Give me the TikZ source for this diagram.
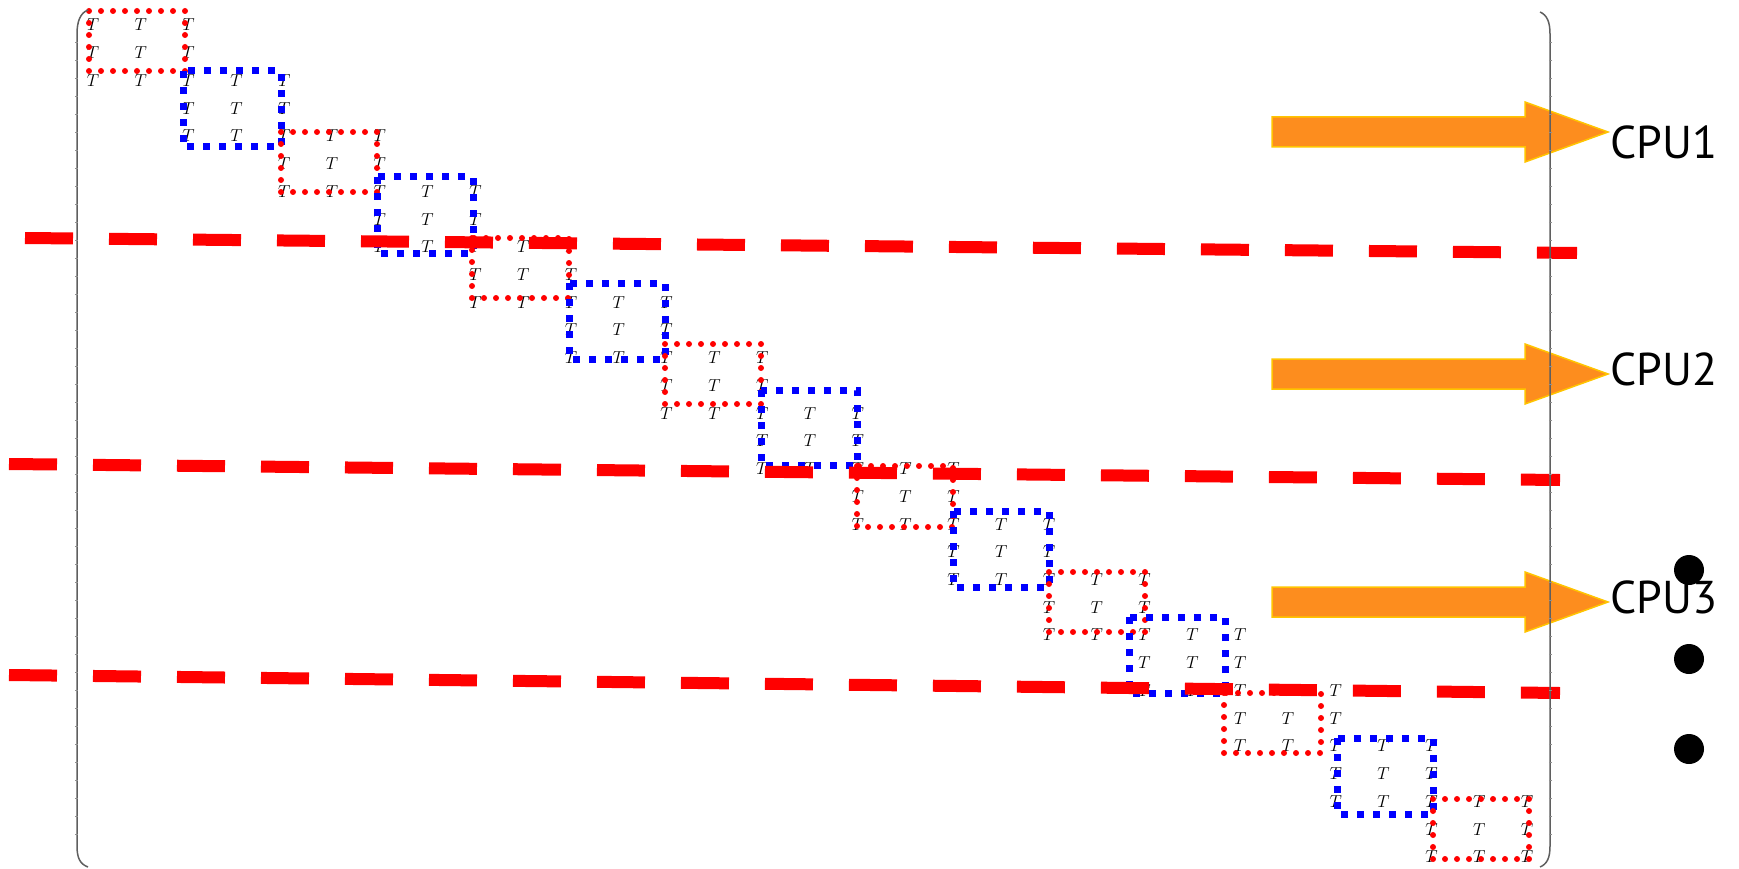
\documentclass[tikz,border=0pt]{standalone}
\usepackage{fontspec}
\newfontfamily\cpufont{PT Sans}
\definecolor{arrowfill}{RGB}{253,141,30}
\definecolor{arrowedge}{RGB}{255,196,0}
\definecolor{bracketgray}{RGB}{95,95,95}
\begin{document}
\begin{tikzpicture}[x=1pt,y=-1pt,
 tlabel/.style={inner sep=0pt, font=\fontsize{17}{20}\selectfont},
 redbox/.style={draw=red, line width=6pt, dash pattern=on 0pt off 12pt, line cap=round},
 bluebox/.style={draw=blue, line width=7pt, dash pattern=on 7pt off 9pt},
 cutline/.style={draw=red, line width=12pt, dash pattern=on 48pt off 36pt},
 cpuarrow/.style={fill=arrowfill, draw=arrowedge, line width=1.5pt, line join=miter},
 cpulabel/.style={anchor=base west, inner sep=0pt, font=\cpufont\fontsize{46}{50}\selectfont},
 bracket/.style={draw=bracketgray, line width=1.5pt},
 tick/.style={draw=bracketgray!70, line width=0.6pt},
 blackdot/.style={circle, fill=black, inner sep=0pt, minimum size=30pt}]
\useasboundingbox (0,0) rectangle (1739,869);

% T entries
\foreach \i in {0,...,14}{
  \foreach \a in {0,1,2}{
    \foreach \b in {0,1,2}{
      \pgfmathtruncatemacro\k{(\i>0)*(\a==0)*(\b==0)}
      \ifnum\k=0
        \pgfmathtruncatemacro\c{2*\i+\a}
        \pgfmathtruncatemacro\r{2*\i+\b}
        \node[tlabel] (t-\c-\r) at ({93+47.8*\c},{25+27.73*\r}) {$T$};
      \fi
    }
  }
}

% blocks
\draw[redbox]  (89,11) rectangle (185,71);
\draw[bluebox] (183,71) rectangle (281,147);
\draw[redbox]  (281,132) rectangle (377,192);
\draw[bluebox] (377,177) rectangle (473,253);
\draw[redbox]  (472,238) rectangle (569,298);
\draw[bluebox] (569,283) rectangle (665,359);
\draw[redbox]  (665,344) rectangle (761,404);
\draw[bluebox] (761,390) rectangle (857,465);
\draw[redbox]  (857,466) rectangle (953,527);
\draw[bluebox] (953,511) rectangle (1049,587);
\draw[redbox]  (1049,572) rectangle (1145,632);
\draw[bluebox] (1129,617) rectangle (1225,693);
\draw[redbox]  (1224,693) rectangle (1321,753);
\draw[bluebox] (1337,738) rectangle (1433,814);
\draw[redbox]  (1433,799) rectangle (1529,859);

% partition lines
\draw[cutline] (25,238) -- (1577,253);
\draw[cutline] (9,464) -- (1560,480);
\draw[cutline] (9,675) -- (1560,693);

% CPU arrows and labels
\foreach \n/\yc in {1/132,2/374,3/602}{
  \draw[cpuarrow] (1272,\yc-15) -- (1525,\yc-15) -- (1525,\yc-30) -- (1608,\yc)
     -- (1525,\yc+30) -- (1525,\yc+15) -- (1272,\yc+15) -- cycle;
}
\node[cpulabel] (cpu1) at (1610,159) {CPU1};
\node[cpulabel] (cpu2) at (1610,385) {CPU2};
\node[cpulabel] (cpu3) at (1610,613) {CPU3};

% matrix brackets
\draw[bracket] (88,10) .. controls (80,13) and (77,22) .. (77,34) -- (77,846)
   .. controls (77,858) and (80,864) .. (88,867);
\draw[bracket] (1540,12) .. controls (1547,15) and (1550,22) .. (1550,34) -- (1550,846)
   .. controls (1550,858) and (1547,864) .. (1540,867);
\foreach \y in {42,60,...,834}{
  \draw[tick] (75,\y) -- (78,\y);
  \draw[tick] (1549,\y) -- (1552,\y);
}

% continuation dots
\node[blackdot] (dot1) at (1689,570) {};
\node[blackdot] (dot2) at (1689,659) {};
\node[blackdot] (dot3) at (1689,749) {};
\end{tikzpicture}
\end{document}
